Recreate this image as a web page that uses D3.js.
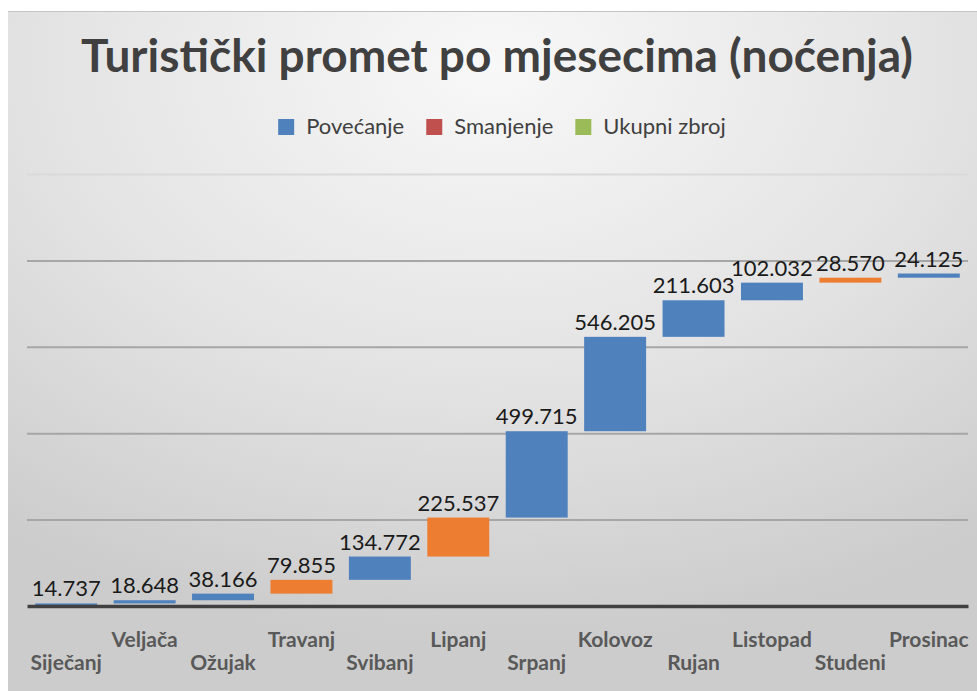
<!DOCTYPE html>
<html>
<head>
<meta charset="utf-8">
<script src="https://cdn.jsdelivr.net/npm/d3@7"></script>
<style>
  body { margin: 0; background: #fff; }
  text { font-family: Lato, "Open Sans", sans-serif; }
</style>
</head>
<body>
<div id="chart"></div>
<script>
// Podaci: noćenja po mjesecima
const months = ["Siječanj", "Veljača", "Ožujak", "Travanj", "Svibanj", "Lipanj",
                "Srpanj", "Kolovoz", "Rujan", "Listopad", "Studeni", "Prosinac"];
const nights = [14737, 18648, 38166, 79855, 134772, 225537,
                499715, 546205, 211603, 102032, 28570, 24125];
const orangeMonths = ["Travanj", "Lipanj", "Studeni"];
const legendItems = ["Povećanje", "Smanjenje", "Ukupni zbroj"];
const gridValues = [500000, 1000000, 1500000, 2000000, 2500000];

const W = 977, H = 691;
const margin = {top: 174, right: 9, bottom: 85, left: 27};

const svg = d3.select("#chart")
    .append("svg")
    .attr("width", W)
    .attr("height", H);

// pozadina s gradijentom
const defs = svg.append("defs");
const grad = defs.append("radialGradient")
    .attr("id", "bg")
    .attr("cx", "50%").attr("cy", "8%").attr("r", "85%");
grad.append("stop").attr("offset", "0%").attr("stop-color", "#f8f8f8");
grad.append("stop").attr("offset", "55%").attr("stop-color", "#e3e3e3");
grad.append("stop").attr("offset", "100%").attr("stop-color", "#cccccc");

svg.append("rect")
    .attr("x", 8).attr("y", 11)
    .attr("width", W - 8).attr("height", H - 11)
    .attr("fill", "url(#bg)");
svg.append("line")
    .attr("x1", 8).attr("x2", W).attr("y1", 11.5).attr("y2", 11.5)
    .attr("stroke", "#c4c4c4");

// naslov
svg.append("text")
    .attr("x", 497).attr("y", 72)
    .attr("text-anchor", "middle")
    .attr("font-size", 46)
    .attr("font-weight", 700)
    .attr("fill", "#404040")
    .text("Turistički promet po mjesecima (noćenja)");

// legenda
const legendColor = d3.scaleOrdinal()
    .domain(legendItems)
    .range(["#4f81bd", "#c0504d", "#9bbb59"]);
const legend = svg.append("g");
let lx = 0;
legendItems.forEach(name => {
    const g = legend.append("g").attr("transform", `translate(${lx},0)`);
    g.append("rect")
        .attr("y", -8).attr("width", 16).attr("height", 16)
        .attr("fill", legendColor(name));
    const t = g.append("text")
        .attr("x", 28).attr("y", 7)
        .attr("font-size", 22)
        .attr("fill", "#404040")
        .text(name);
    lx += 28 + t.node().getComputedTextLength() + 22;
});
legend.attr("transform", `translate(${502 - (lx - 22) / 2},127)`);

// skale
const x = d3.scaleBand()
    .domain(months)
    .range([margin.left, W - margin.right])
    .paddingInner(0.21)
    .paddingOuter(0.105);

const y = d3.scaleLinear()
    .domain([0, 2500000])
    .range([H - margin.bottom, margin.top]);

// mreža
const grid = svg.append("g")
    .attr("transform", `translate(${margin.left},0)`)
    .call(d3.axisLeft(y)
        .tickValues(gridValues)
        .tickSize(-(x.range()[1] - margin.left))
        .tickFormat(""));
grid.select(".domain").remove();
grid.selectAll(".tick line")
    .attr("stroke", d => d === 2500000 ? "#dadada" : "#a6a6a6")
    .attr("stroke-width", 2);

// kumulativni (vodopad) stupci
let run = 0;
const bars = months.map((m, i) => {
    const start = run;
    run += nights[i];
    return {month: m, value: nights[i], start: start, end: run};
});

const barColor = m => orangeMonths.includes(m) ? "#ed7d31" : "#4f81bd";

svg.selectAll("rect.bar")
    .data(bars)
    .enter()
    .append("rect")
    .attr("class", "bar")
    .attr("x", d => x(d.month))
    .attr("y", d => y(d.end))
    .attr("width", x.bandwidth())
    .attr("height", d => y(d.start) - y(d.end))
    .attr("fill", d => barColor(d.month));

// os x
const xAxis = svg.append("g")
    .attr("transform", `translate(0,${y(0)})`)
    .call(d3.axisBottom(x).tickSize(0));
xAxis.select(".domain")
    .attr("stroke", "#404040")
    .attr("stroke-width", 3.5);
xAxis.selectAll(".tick text")
    .attr("y", (d, i) => i % 2 === 1 ? 41 : 64)
    .attr("dy", 0)
    .attr("font-size", 21)
    .attr("font-weight", 700)
    .attr("fill", "#595959")
    .style("font-family", "Lato, sans-serif");

// oznake vrijednosti
svg.selectAll("text.val")
    .data(bars)
    .enter()
    .append("text")
    .attr("class", "val")
    .attr("x", d => x(d.month) + x.bandwidth() / 2)
    .attr("y", d => y(d.end) - 7)
    .attr("text-anchor", "middle")
    .attr("font-size", 22)
    .attr("fill", "#1a1a1a")
    .text(d => d3.format(",")(d.value).replace(",", "."));
</script>
</body>
</html>
